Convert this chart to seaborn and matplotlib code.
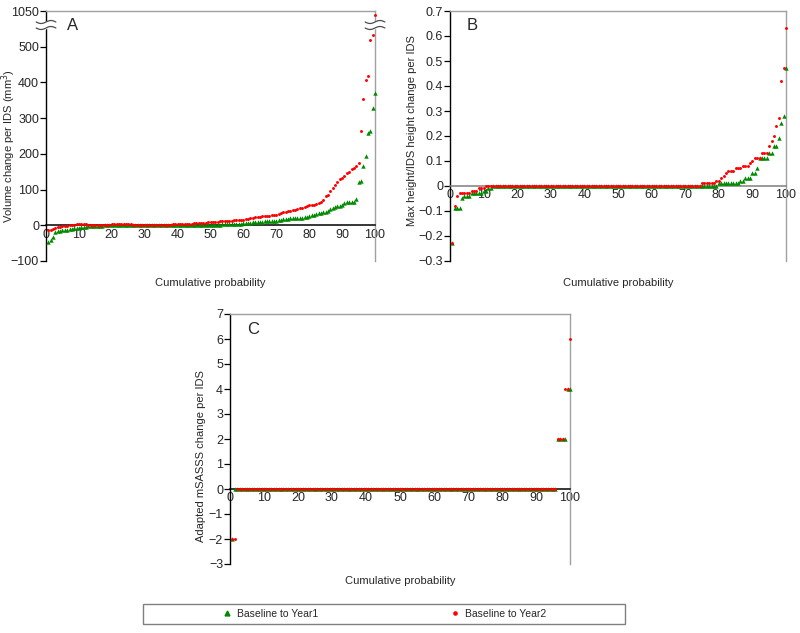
import matplotlib
matplotlib.use('Agg')
import matplotlib.pyplot as plt
from matplotlib.lines import Line2D
from matplotlib.patches import Rectangle
import numpy as np
import pandas as pd
import seaborn as sns

# sorted change per IDS, 140 IDS (blocks of 10)
vol_year1 = [-48, -42, -33, -20, -17, -15, -14, -13, -12, -11,
             -10, -9, -8, -7, -6, -5, -4, -3, -3, -2,
             -2, -1, -1, -1, 0, 0, 0, 0, 0, 0,
             0, 0, 0, 0, 0, 0, 0, 0, 0, 0,
             0, 0, 0, 0, 0, 0, 0, 0, 0, 0,
             0, 0, 0, 0, 0, 0, 1, 1, 1, 1,
             1, 1, 1, 1, 1, 2, 2, 2, 2, 2,
             2, 2, 2, 2, 3, 3, 3, 3, 3, 3,
             4, 4, 4, 5, 5, 5, 6, 8, 9, 10,
             10, 10, 11, 11, 11, 12, 12, 13, 14, 16,
             17, 18, 18, 19, 19, 20, 20, 21, 21, 22,
             24, 26, 28, 30, 32, 34, 35, 36, 38, 40,
             45, 48, 52, 53, 55, 58, 62, 64, 65, 66,
             66, 73, 122, 124, 166, 194, 258, 263, 327, 371]
vol_year2 = [-14, -12, -10, -8, -6, -5, -3, -2, -1, 0,
             1, 2, 3, 3, 3, 3, 3, 2, 2, 1,
             1, 1, 1, 1, 1, 1, 2, 3, 3, 3,
             3, 3, 3, 3, 3, 3, 2, 1, 1, 0,
             0, 0, 0, 0, 0, 1, 1, 2, 2, 2,
             2, 2, 2, 3, 3, 3, 3, 3, 3, 4,
             4, 4, 5, 5, 6, 6, 7, 7, 8, 8,
             9, 10, 10, 11, 11, 12, 12, 13, 13, 14,
             14, 15, 15, 16, 17, 18, 20, 21, 22, 23,
             24, 25, 25, 26, 27, 28, 29, 30, 32, 35,
             36, 38, 39, 40, 42, 43, 45, 47, 49, 52,
             55, 56, 57, 58, 60, 63, 66, 70, 82, 84,
             95, 103, 112, 122, 130, 132, 137, 145, 150, 158,
             160, 165, 175, 265, 354, 408, 417, 520, 533, 1040]

height_year1 = ([-0.23, -0.09, -0.09, -0.09, -0.05, -0.04, -0.04, -0.04, -0.03, -0.03,
                 -0.03, -0.03, -0.03, -0.02, -0.02, -0.01, -0.01, 0, 0, 0]
                + [0] * 90
                + [0, 0.01, 0.01, 0.01, 0.01, 0.01, 0.01, 0.01, 0.01, 0.01,
                   0.02, 0.02, 0.03, 0.03, 0.03, 0.05, 0.05, 0.07, 0.11, 0.11,
                   0.11, 0.11, 0.13, 0.13, 0.16, 0.16, 0.19, 0.25, 0.28, 0.47])
height_year2 = ([-0.23, -0.08, -0.04, -0.03, -0.03, -0.03, -0.03, -0.03, -0.02, -0.02,
                 -0.02, -0.01, -0.01, -0.01, 0, 0, 0, 0, 0, 0]
                + [0] * 80
                + [0, 0, 0, 0, 0.01, 0.01, 0.01, 0.01, 0.01, 0.01,
                   0.02, 0.02, 0.03, 0.04, 0.05, 0.06, 0.06, 0.06, 0.07, 0.07,
                   0.07, 0.08, 0.08, 0.08, 0.09, 0.10, 0.11, 0.11, 0.11, 0.13,
                   0.13, 0.13, 0.16, 0.18, 0.20, 0.24, 0.27, 0.42, 0.47, 0.63])

msasss_year1 = [-2] + [0] * 133 + [2, 2, 2, 2] + [4, 4]
msasss_year2 = [-2, -2] + [0] * 132 + [2, 2, 2] + [4, 4] + [6]

GREEN = '#008a00'
RED = '#ff0000'
FONT = ['Liberation Sans', 'DejaVu Sans']

sns.set_theme(style='white')
plt.rcParams['font.family'] = FONT


def cum_frame(values):
    n = len(values)
    return pd.DataFrame({'prob': np.arange(1, n + 1) / n * 100,
                         'change': np.asarray(values, dtype=float)})


def broken(v):
    # values above the break are pulled down next to the 1050 tick
    return np.where(v > 560, 600 - (1050 - v), v)


def draw_break(ax, xf):
    t = np.linspace(-1, 1, 30)
    xs = xf + 0.03 * t
    lo = 0.932 + 0.006 * np.sin(np.pi * t)
    hi = 0.956 + 0.006 * np.sin(np.pi * t)
    ax.fill_between(xs, lo, hi, color='white', transform=ax.transAxes,
                    clip_on=False, zorder=5)
    ax.plot(xs, lo, color='0.3', lw=0.9, transform=ax.transAxes, clip_on=False, zorder=6)
    ax.plot(xs, hi, color='0.3', lw=0.9, transform=ax.transAxes, clip_on=False, zorder=6)


def panel(ax, y1, y2, letter, ylabel, ylim, yticks, yticklabels,
          zero_color, ylab_pos, xlab_y):
    d1 = cum_frame(y1)
    d2 = cum_frame(y2)
    if letter == 'A':
        d1['change'] = broken(d1['change'])
        d2['change'] = broken(d2['change'])
    sns.scatterplot(data=d1, x='prob', y='change', ax=ax, marker='^', color=GREEN,
                    s=10, linewidth=0, legend=False, clip_on=False, zorder=3)
    sns.scatterplot(data=d2, x='prob', y='change', ax=ax, marker='o', color=RED,
                    s=4.5, linewidth=0, legend=False, clip_on=False, zorder=4)
    ax.set_xlim(0, 100)
    ax.set_ylim(*ylim)
    ax.set_xticks(range(0, 101, 10))
    ax.set_yticks(yticks)
    ax.set_yticklabels(yticklabels)
    ax.spines['bottom'].set_position(('data', 0))
    ax.spines['bottom'].set_color(zero_color)
    ax.spines['bottom'].set_linewidth(1.1)
    ax.spines['left'].set_color('black')
    ax.spines['left'].set_linewidth(1)
    for side in ('top', 'right'):
        ax.spines[side].set_color('#a0a0a0')
        ax.spines[side].set_linewidth(1)
    ax.tick_params(axis='y', direction='out', length=4, width=0.9, color='black',
                   labelsize=9, pad=1, left=True)
    ax.tick_params(axis='x', direction='out', length=0, labelsize=9, pad=2.5)
    ax.set_xlabel('Cumulative probability', fontsize=8)
    ax.set_ylabel(ylabel, fontsize=8)
    ax.xaxis.set_label_coords(0.5, xlab_y)
    ax.yaxis.set_label_coords(*ylab_pos)
    ax.text(0.05 if letter != 'A' else 0.065, 0.94, letter, transform=ax.transAxes,
            fontsize=12, va='center', ha='left')


fig = plt.figure(figsize=(8, 6.33), dpi=100)
ax_a = fig.add_axes([46 / 800, 1 - 261 / 633, 329 / 800, 250 / 633])
ax_b = fig.add_axes([450 / 800, 1 - 261 / 633, 336 / 800, 250 / 633])
ax_c = fig.add_axes([230 / 800, 1 - 564 / 633, 340 / 800, 250 / 633])

panel(ax_a, vol_year1, vol_year2, 'A', 'Volume change per IDS (mm$^3$)',
      (-100, 600), list(range(-100, 601, 100)),
      ['\u2212100', '0', '100', '200', '300', '400', '500', '1050'],
      'black', (-0.086, 0.46), -0.068)
draw_break(ax_a, 0.0)
draw_break(ax_a, 1.0)

b_ticks = [-0.3, -0.2, -0.1, 0, 0.1, 0.2, 0.3, 0.4, 0.5, 0.6, 0.7]
panel(ax_b, height_year1, height_year2, 'B', 'Max height/IDS height change per IDS',
      (-0.3, 0.7), b_ticks, [f'{v:g}'.replace('-', '\u2212') for v in b_ticks],
      '#7f7f7f', (-0.097, 0.52), -0.068)

c_ticks = list(range(-3, 8))
panel(ax_c, msasss_year1, msasss_year2, 'C', 'Adapted mSASSS change per IDS',
      (-3, 7), c_ticks, [str(v).replace('-', '\u2212') for v in c_ticks],
      'black', (-0.072, 0.43), -0.047)

handles = [Line2D([], [], marker='^', color=GREEN, linestyle='none', markersize=3.5),
           Line2D([], [], marker='o', color=RED, linestyle='none', markersize=2.3)]
fig.legend(handles, ['Baseline to Year1', 'Baseline to Year2'], ncol=2,
           loc='center', bbox_to_anchor=(384 / 800, 1 - 614 / 633), frameon=False,
           fontsize=7.5, handlelength=1, handletextpad=0.5, columnspacing=12.6)
fig.patches.append(Rectangle((143 / 800, 1 - 624 / 633), 482 / 800, 20 / 633,
                             transform=fig.transFigure, fill=False,
                             edgecolor='#808080', lw=1))

fig.savefig('out.png', dpi=100)
